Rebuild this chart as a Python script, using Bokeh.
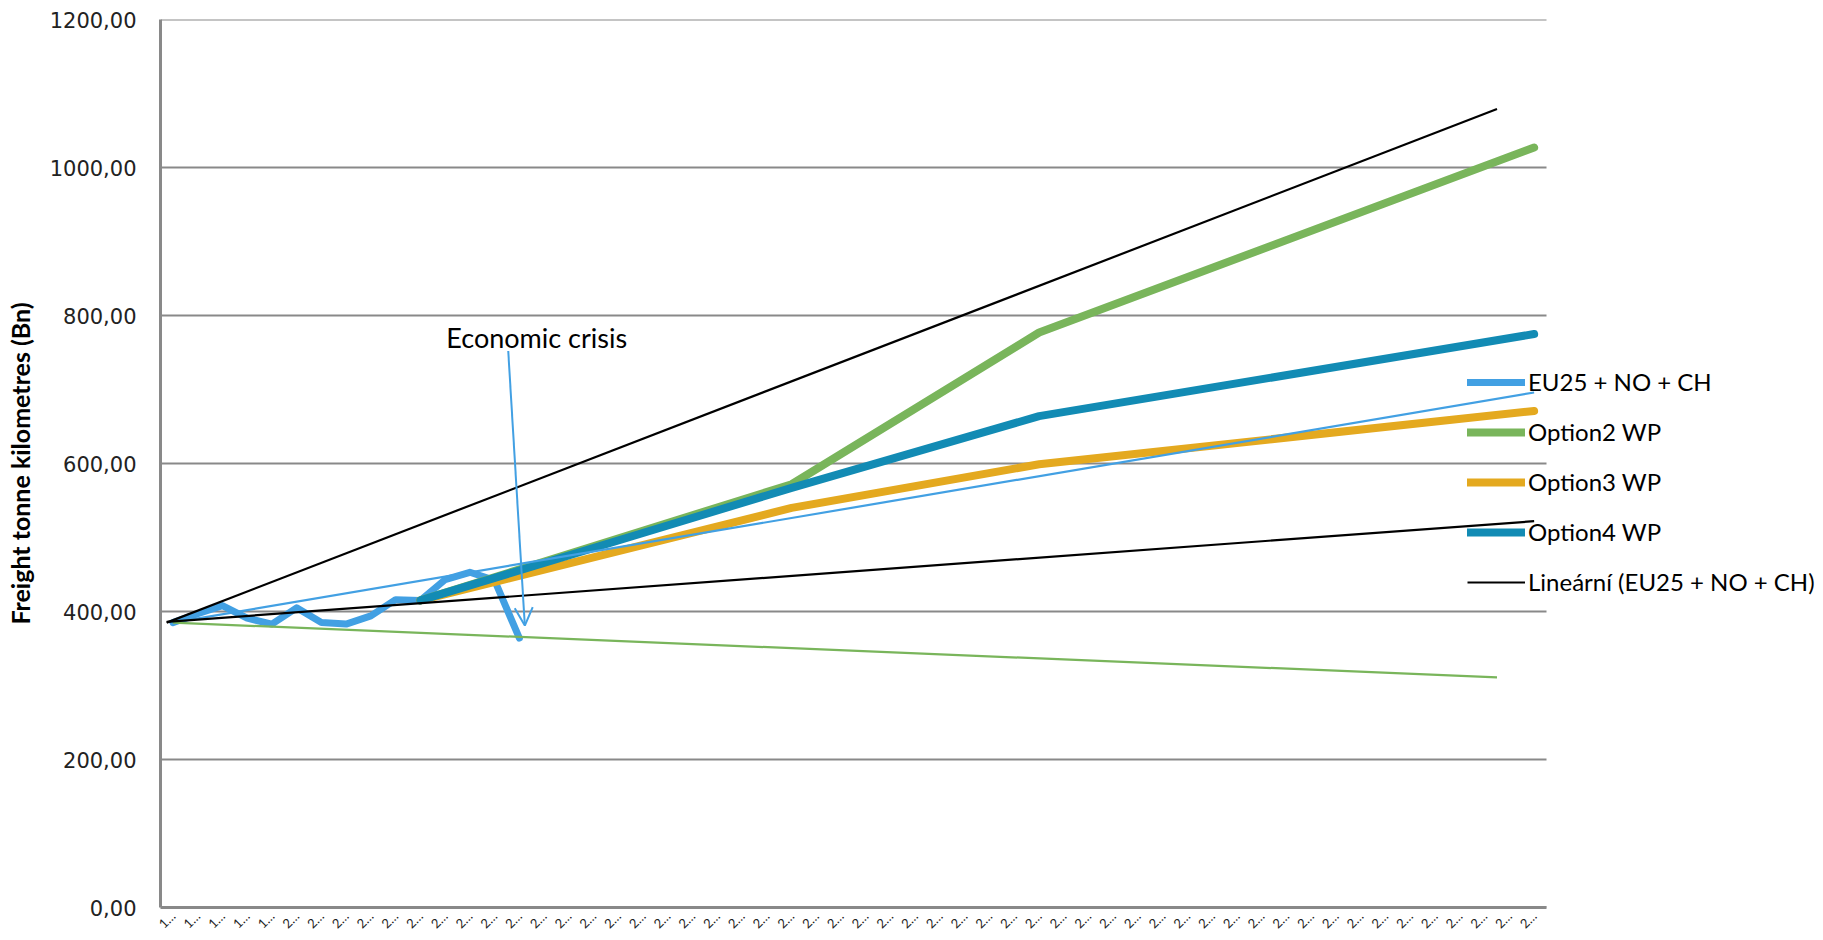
import math
from bokeh.plotting import figure
from bokeh.models import Range1d, FixedTicker, Legend, LegendItem, Arrow, OpenHead, Label
from bokeh.embed import file_html
from bokeh.resources import INLINE

# ---------------- data ----------------
years = list(range(1995, 2051))
tick_labels = [str(y)[0] + "…" for y in years]

eu_years = list(range(1995, 2010))
eu_values = [385, 397, 408, 391, 383, 405, 385, 383, 394, 416, 415, 443, 453, 442, 364]

option_years = [2005, 2020, 2030, 2050]
option2_values = [415, 572, 777, 1027]
option3_values = [415, 540, 599, 671]
option4_values = [415, 567, 664, 775]

# linear trend of EU25 + NO + CH
trend_x = [1994.75, 2050]
trend_y = [386, 522]

# other drawn reference lines
upper_line_x = [1994.75, 2048.5]
upper_line_y = [385, 1079]
blue_line_x = [1995, 2050]
blue_line_y = [385, 696]
green_line_x = [1995, 2048.5]
green_line_y = [385, 311]

y_ticks = [0, 200, 400, 600, 800, 1000, 1200]
y_tick_labels = ["0,00", "200,00", "400,00", "600,00", "800,00", "1000,00", "1200,00"]

# ---------------- colours ----------------
C_EU = "#42A0E3"
C_O2 = "#79B55B"
C_O3 = "#E4A91F"
C_O4 = "#128BB4"
GRID = "#898989"

x_start = years[0] - 0.5
x_end = years[-1] + 0.5
px_per_year = (1546 - 160) / (x_end - x_start)
x_frame_end = x_start + (1818 - 160) / px_per_year

p = figure(width=1823, height=940, output_backend="svg", toolbar_location=None,
           x_range=Range1d(x_start, x_frame_end), y_range=Range1d(0, 1200),
           min_border_left=160, min_border_right=5, min_border_top=19,
           min_border_bottom=31)
p.outline_line_color = None
p.background_fill_color = "white"
p.border_fill_color = "white"

p.xgrid.grid_line_color = None
p.ygrid.grid_line_color = None

# horizontal gridlines limited to the category span
p.segment(x0=[x_start] * len(y_ticks), x1=[x_end] * len(y_ticks), y0=y_ticks, y1=y_ticks,
          line_color=GRID, line_width=2)

p.yaxis.ticker = FixedTicker(ticks=y_ticks)
p.yaxis.major_label_overrides = {t: l for t, l in zip(y_ticks, y_tick_labels)}
p.yaxis.axis_line_color = GRID
p.yaxis.axis_line_width = 3
p.yaxis.major_tick_line_color = None
p.yaxis.minor_tick_line_color = None
p.yaxis.major_label_text_font = "DejaVu Sans"
p.yaxis.major_label_text_font_size = "21px"
p.yaxis.major_label_text_color = "#222222"
p.yaxis.major_label_standoff = 18
p.yaxis.axis_label = "Freight tonne kilometres (Bn)"
p.yaxis.axis_label_text_font = "Lato"
p.yaxis.axis_label_text_font_style = "bold"
p.yaxis.axis_label_text_font_size = "25px"
p.yaxis.axis_label_text_color = "#000000"
p.yaxis.axis_label_standoff = 12

p.xaxis.ticker = FixedTicker(ticks=years)
p.xaxis.bounds = (x_start, x_end)
p.xaxis.major_label_overrides = {y: l for y, l in zip(years, tick_labels)}
p.xaxis.major_label_orientation = math.pi / 4
p.xaxis.axis_line_color = GRID
p.xaxis.axis_line_width = 3
p.xaxis.major_tick_line_color = None
p.xaxis.minor_tick_line_color = None
p.xaxis.major_label_text_font = "Lato"
p.xaxis.major_label_text_font_size = "13px"
p.xaxis.major_label_text_color = "#222222"
p.xaxis.major_label_standoff = 0

# thick series
r_eu = p.line(eu_years, eu_values, line_color=C_EU, line_width=7, line_cap="round", line_join="round")
r_o2 = p.line(option_years, option2_values, line_color=C_O2, line_width=8, line_cap="round", line_join="round")
r_o3 = p.line(option_years, option3_values, line_color=C_O3, line_width=8, line_cap="round", line_join="round")
r_o4 = p.line(option_years, option4_values, line_color=C_O4, line_width=8, line_cap="round", line_join="round")

# thin lines
p.line(blue_line_x, blue_line_y, line_color=C_EU, line_width=2.2)
p.line(green_line_x, green_line_y, line_color=C_O2, line_width=2.2)
p.line(upper_line_x, upper_line_y, line_color="black", line_width=2.2)
r_tr = p.line(trend_x, trend_y, line_color="black", line_width=2.2)

# annotation
p.add_layout(Arrow(end=OpenHead(size=18, line_color=C_EU, line_width=2),
                   x_start=2008.55, y_start=752, x_end=2009.22, y_end=381,
                   line_color=C_EU, line_width=2))
p.add_layout(Label(x=2009.7, y=770, text="Economic crisis", text_align="center",
                   text_baseline="alphabetic", text_font="Lato", text_font_size="27px",
                   text_color="#000000"))

legend = Legend(items=[
    LegendItem(label="EU25 + NO + CH", renderers=[r_eu]),
    LegendItem(label="Option2 WP", renderers=[r_o2]),
    LegendItem(label="Option3 WP", renderers=[r_o3]),
    LegendItem(label="Option4 WP", renderers=[r_o4]),
    LegendItem(label="Lineární (EU25 + NO + CH)", renderers=[r_tr]),
], location=(1307, 311))
legend.label_text_font = "Lato"
legend.label_text_font_size = "24px"
legend.label_text_color = "#000000"
legend.glyph_width = 58
legend.glyph_height = 28
legend.label_height = 28
legend.spacing = 21
legend.padding = 0
legend.margin = 0
legend.label_standoff = 3
legend.border_line_color = None
legend.background_fill_alpha = 0
p.add_layout(legend)

open("out.html", "w").write(file_html(p, INLINE))
